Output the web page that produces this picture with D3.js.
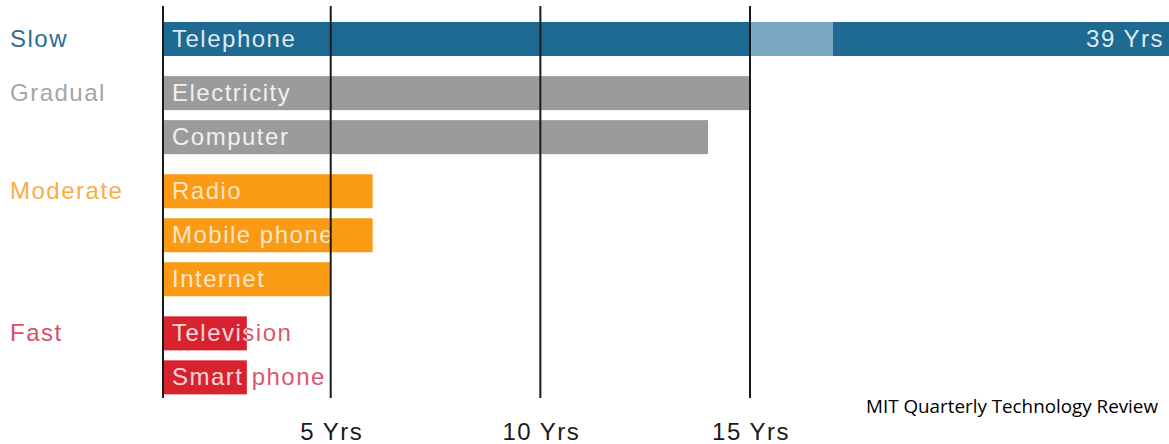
<!doctype html>
<html lang="en">
<head>
    <meta charset="UTF-8">
    <title>Technology adoption</title>
    <script src="https://d3js.org/d3.v7.min.js"></script>
    <style>
        body { margin: 0; background: #fff; }
        text { font-family: "Liberation Sans", Arial, sans-serif; }
    </style>
</head>
<body>
<div id="chart-area"></div>

<script>
const chartW = 1169;
const chartH = 444;

// data
const categories   = ['Slow', 'Gradual', 'Moderate', 'Fast'];
const technologies = ['Telephone', 'Electricity', 'Computer', 'Radio', 'Mobile phone', 'Internet', 'Television', 'Smart phone'];
const techCategory = ['Slow', 'Gradual', 'Gradual', 'Moderate', 'Moderate', 'Moderate', 'Fast', 'Fast'];
const yearsToAdopt = [39, 15, 14, 6, 6, 5, 3, 3];
const tickValues   = [5, 10, 15];
const tickLabels   = ['5 Yrs', '10 Yrs', '15 Yrs'];
const sourceText   = 'MIT Quarterly Technology Review';

// axis starts at year 1, broken after 15
const axisStart  = 1;
const breakStart = 15;
const breakEnd   = 17;

const catLabelColor = { Slow: '#2b6e8e', Gradual: '#a6a6a6', Moderate: '#f9ae45', Fast: '#de4d66' };
const barColor      = { Slow: '#1e6a93', Gradual: '#9b9b9b', Moderate: '#fb9a14', Fast: '#d8222d' };
const barTextColor  = { Slow: '#dde9f1', Gradual: '#f0f0f0', Moderate: '#fde6c6', Fast: '#f8d3d6' };
const outTextColor  = { Slow: '#2b6e8e', Gradual: '#9b9b9b', Moderate: '#fb9a14', Fast: '#dc5670' };

const svg = d3.select('#chart-area')
    .append('svg')
    .attr('width', chartW)
    .attr('height', chartH);

const x = d3.scaleLinear()
    .domain([axisStart, breakStart, breakEnd, 39])
    .range([163, 750, 833, 1172]);

// rows: 44px pitch, extra gap between category groups
const groupGap = 0.23;
const slot = technologies.map((t, i) => i + categories.indexOf(techCategory[i]) * groupGap);
const y = d3.scaleLinear().domain([0, 1]).range([22, 66]);
const barH = 34;

const rows = technologies.map((t, i) => ({
    name: t, cat: techCategory[i], years: yearsToAdopt[i], top: y(slot[i]), i
}));

const defs = svg.append('defs');

// bars
svg.selectAll('rect.bar')
    .data(rows)
    .enter()
    .append('rect')
        .attr('class', 'bar')
        .attr('x', x(axisStart))
        .attr('y', d => d.top)
        .attr('width', d => x(d.years) - x(axisStart))
        .attr('height', barH)
        .attr('fill', d => barColor[d.cat]);

// axis break on the long bar
const longest = rows.filter(d => d.years > breakEnd);
svg.selectAll('rect.brk')
    .data(longest)
    .enter()
    .append('rect')
        .attr('class', 'brk')
        .attr('x', x(breakStart))
        .attr('y', d => d.top)
        .attr('width', x(breakEnd) - x(breakStart))
        .attr('height', barH)
        .attr('fill', '#7ba7c3');

// clip paths so the label is light inside the bar, coloured outside
defs.selectAll('clipPath')
    .data(rows)
    .enter()
    .append('clipPath')
        .attr('id', d => 'clip' + d.i)
    .append('rect')
        .attr('x', x(axisStart))
        .attr('y', d => d.top)
        .attr('width', d => x(d.years) - x(axisStart))
        .attr('height', barH);

const labelAttrs = sel => sel
    .attr('x', 172)
    .attr('y', d => d.top + 25)
    .attr('font-size', 24)
    .attr('letter-spacing', 1.5)
    .text(d => d.name);

svg.selectAll('text.outer')
    .data(rows)
    .enter()
    .append('text')
        .attr('class', 'outer')
        .attr('fill', d => outTextColor[d.cat])
        .call(labelAttrs);

svg.selectAll('text.inner')
    .data(rows)
    .enter()
    .append('text')
        .attr('class', 'inner')
        .attr('clip-path', d => 'url(#clip' + d.i + ')')
        .attr('fill', d => barTextColor[d.cat])
        .call(labelAttrs);

// value on the long bar
svg.selectAll('text.val')
    .data(longest)
    .enter()
    .append('text')
        .attr('class', 'val')
        .attr('x', 1164)
        .attr('y', d => d.top + 25)
        .attr('text-anchor', 'end')
        .attr('font-size', 24)
        .attr('letter-spacing', 1.5)
        .attr('fill', d => barTextColor[d.cat])
        .text(d => d.years + ' Yrs');

// grid lines
svg.selectAll('line.grid')
    .data([axisStart].concat(tickValues))
    .enter()
    .append('line')
        .attr('class', 'grid')
        .attr('x1', d => x(d))
        .attr('x2', d => x(d))
        .attr('y1', 6)
        .attr('y2', 398)
        .attr('stroke', '#1a1a1a')
        .attr('stroke-width', 2);

// tick labels
svg.selectAll('text.tick')
    .data(tickValues)
    .enter()
    .append('text')
        .attr('class', 'tick')
        .attr('x', d => x(d) + 1)
        .attr('y', 440)
        .attr('text-anchor', 'middle')
        .attr('font-size', 24)
        .attr('letter-spacing', 1.5)
        .attr('fill', '#1a1a1a')
        .text((d, i) => tickLabels[i]);

// category labels, next to the first row of each group
svg.selectAll('text.cat')
    .data(categories)
    .enter()
    .append('text')
        .attr('class', 'cat')
        .attr('x', 10)
        .attr('y', c => rows.find(r => r.cat === c).top + 25)
        .attr('font-size', 24)
        .attr('letter-spacing', 1.5)
        .attr('fill', c => catLabelColor[c])
        .text(c => c);

// source
svg.append('text')
    .attr('x', 866)
    .attr('y', 413)
    .attr('font-size', 18)
    .attr('textLength', 292)
    .attr('lengthAdjust', 'spacingAndGlyphs')
    .style('font-family', '"Open Sans", sans-serif')
    .attr('fill', '#000')
    .text(sourceText);
</script>

</body>
</html>
